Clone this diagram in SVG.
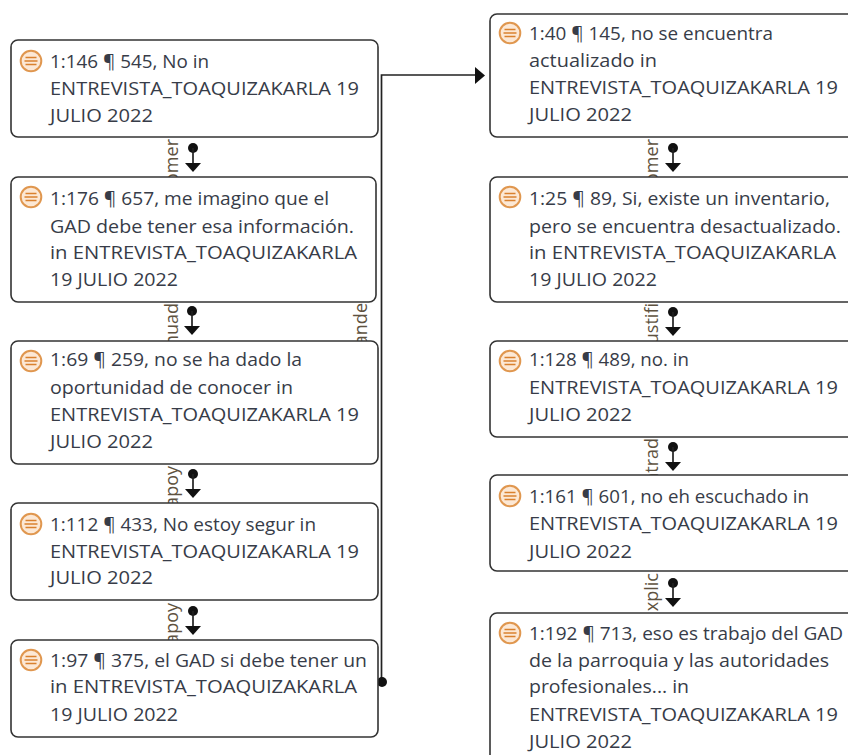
<svg xmlns="http://www.w3.org/2000/svg" width="848" height="755" viewBox="0 0 848 755">
<style>
.box{fill:#fff;stroke:#333;stroke-width:1.6}
.t{font-family:"Open Sans","Noto Sans","Liberation Sans",sans-serif;font-size:18.5px;fill:#373c48}
.l{font-family:"Open Sans","Noto Sans","Liberation Sans",sans-serif;font-size:18px;fill:#5e5240;text-anchor:end}
.c{fill:none;stroke:#222;stroke-width:1.7}
.k{fill:#111;stroke:none}
</style>
<defs>
<g id="icon"><circle cx="0" cy="0" r="10.300" fill="#fce8d5" stroke="#e0974f" stroke-width="2"/><path d="M-5.500-3.500H5.500M-6.500 0H6.500M-5.500 3.500H5.500" stroke="#d9812f" stroke-width="1.600" fill="none"/></g>
<g id="link"><circle cx="0" cy="0" r="5" class="k"/><path d="M0 0V17" class="c"/><path d="M-8 15H8L0 24Z" class="k"/></g>
</defs>
<rect width="848" height="755" fill="#fff"/>
<g id="labels">
<text class="l" transform="translate(178 139) rotate(-90)">omer</text>
<text class="l" transform="translate(178 303) rotate(-90)">nuad</text>
<text class="l" transform="translate(178 466) rotate(-90)">apoy</text>
<text class="l" transform="translate(178 603) rotate(-90)">apoy</text>
<text class="l" transform="translate(367 303) rotate(-90)">ande</text>
<text class="l" transform="translate(658 139) rotate(-90)">omer</text>
<text class="l" transform="translate(658 303) rotate(-90)">ustifi</text>
<text class="l" transform="translate(658 438) rotate(-90)">ntrad</text>
<text class="l" transform="translate(658 573) rotate(-90)">xplic</text>
</g>
<g id="connectors">
<use href="#link" x="193" y="148"/>
<use href="#link" x="192" y="311"/>
<use href="#link" x="193" y="474"/>
<use href="#link" x="193" y="611"/>
<use href="#link" x="673" y="148"/>
<use href="#link" x="673" y="312"/>
<use href="#link" x="673" y="447"/>
<use href="#link" x="673" y="583"/>
<path class="c" d="M381.500 682V75H478"/>
<path class="k" d="M475 67L485 75.500L475 84Z"/>
<circle class="k" cx="382" cy="682" r="5"/>
</g>
<g id="n1"><rect class="box" x="11" y="40" width="367" height="97" rx="7"/><use href="#icon" x="31" y="61"/><text class="t" x="50" y="68" textLength="159" lengthAdjust="spacingAndGlyphs">1:146 ¶ 545, No in</text><text class="t" x="50" y="95" textLength="309" lengthAdjust="spacingAndGlyphs">ENTREVISTA_TOAQUIZAKARLA 19</text><text class="t" x="50" y="122" textLength="103" lengthAdjust="spacingAndGlyphs">JULIO 2022</text></g>
<g id="n2"><rect class="box" x="11" y="177" width="365" height="125" rx="7"/><use href="#icon" x="31" y="197"/><text class="t" x="50" y="205" textLength="279" lengthAdjust="spacingAndGlyphs">1:176 ¶ 657, me imagino que el</text><text class="t" x="50" y="233" textLength="304" lengthAdjust="spacingAndGlyphs">GAD debe tener esa información.</text><text class="t" x="50" y="259" textLength="307" lengthAdjust="spacingAndGlyphs">in ENTREVISTA_TOAQUIZAKARLA</text><text class="t" x="50" y="286" textLength="128" lengthAdjust="spacingAndGlyphs">19 JULIO 2022</text></g>
<g id="n3"><rect class="box" x="11" y="341" width="367" height="123" rx="7"/><use href="#icon" x="31" y="361"/><text class="t" x="50" y="366" textLength="252" lengthAdjust="spacingAndGlyphs">1:69 ¶ 259, no se ha dado la</text><text class="t" x="50" y="394" textLength="243" lengthAdjust="spacingAndGlyphs">oportunidad de conocer in</text><text class="t" x="50" y="421" textLength="309" lengthAdjust="spacingAndGlyphs">ENTREVISTA_TOAQUIZAKARLA 19</text><text class="t" x="50" y="448" textLength="103" lengthAdjust="spacingAndGlyphs">JULIO 2022</text></g>
<g id="n4"><rect class="box" x="11" y="503" width="367" height="97" rx="7"/><use href="#icon" x="31" y="524"/><text class="t" x="50" y="531" textLength="266" lengthAdjust="spacingAndGlyphs">1:112 ¶ 433, No estoy segur in</text><text class="t" x="50" y="558" textLength="309" lengthAdjust="spacingAndGlyphs">ENTREVISTA_TOAQUIZAKARLA 19</text><text class="t" x="50" y="584" textLength="103" lengthAdjust="spacingAndGlyphs">JULIO 2022</text></g>
<g id="n5"><rect class="box" x="11" y="640" width="367" height="97" rx="7"/><use href="#icon" x="31" y="660"/><text class="t" x="50" y="667" textLength="317" lengthAdjust="spacingAndGlyphs">1:97 ¶ 375, el GAD si debe tener un</text><text class="t" x="50" y="693" textLength="307" lengthAdjust="spacingAndGlyphs">in ENTREVISTA_TOAQUIZAKARLA</text><text class="t" x="50" y="721" textLength="128" lengthAdjust="spacingAndGlyphs">19 JULIO 2022</text></g>
<g id="n6"><rect class="box" x="490" y="14" width="370" height="123" rx="7"/><use href="#icon" x="510" y="33"/><text class="t" x="529" y="40" textLength="244" lengthAdjust="spacingAndGlyphs">1:40 ¶ 145, no se encuentra</text><text class="t" x="529" y="67" textLength="128" lengthAdjust="spacingAndGlyphs">actualizado in</text><text class="t" x="529" y="94" textLength="309" lengthAdjust="spacingAndGlyphs">ENTREVISTA_TOAQUIZAKARLA 19</text><text class="t" x="529" y="121" textLength="103" lengthAdjust="spacingAndGlyphs">JULIO 2022</text></g>
<g id="n7"><rect class="box" x="490" y="177" width="370" height="125" rx="7"/><use href="#icon" x="510" y="197"/><text class="t" x="529" y="205" textLength="301" lengthAdjust="spacingAndGlyphs">1:25 ¶ 89, Si, existe un inventario,</text><text class="t" x="529" y="233" textLength="312" lengthAdjust="spacingAndGlyphs">pero se encuentra desactualizado.</text><text class="t" x="529" y="259" textLength="307" lengthAdjust="spacingAndGlyphs">in ENTREVISTA_TOAQUIZAKARLA</text><text class="t" x="529" y="286" textLength="128" lengthAdjust="spacingAndGlyphs">19 JULIO 2022</text></g>
<g id="n8"><rect class="box" x="490" y="341" width="370" height="96" rx="7"/><use href="#icon" x="510" y="361"/><text class="t" x="529" y="366" textLength="160" lengthAdjust="spacingAndGlyphs">1:128 ¶ 489, no. in</text><text class="t" x="529" y="394" textLength="309" lengthAdjust="spacingAndGlyphs">ENTREVISTA_TOAQUIZAKARLA 19</text><text class="t" x="529" y="421" textLength="103" lengthAdjust="spacingAndGlyphs">JULIO 2022</text></g>
<g id="n9"><rect class="box" x="490" y="475" width="370" height="96" rx="7"/><use href="#icon" x="510" y="496"/><text class="t" x="529" y="503" textLength="280" lengthAdjust="spacingAndGlyphs">1:161 ¶ 601, no eh escuchado in</text><text class="t" x="529" y="530" textLength="309" lengthAdjust="spacingAndGlyphs">ENTREVISTA_TOAQUIZAKARLA 19</text><text class="t" x="529" y="558" textLength="103" lengthAdjust="spacingAndGlyphs">JULIO 2022</text></g>
<g id="n10"><rect class="box" x="490" y="613" width="370" height="170" rx="7"/><use href="#icon" x="510" y="633"/><text class="t" x="529" y="640" textLength="314" lengthAdjust="spacingAndGlyphs">1:192 ¶ 713, eso es trabajo del GAD</text><text class="t" x="529" y="667" textLength="300" lengthAdjust="spacingAndGlyphs">de la parroquia y las autoridades</text><text class="t" x="529" y="693" textLength="160" lengthAdjust="spacingAndGlyphs">profesionales... in</text><text class="t" x="529" y="721" textLength="309" lengthAdjust="spacingAndGlyphs">ENTREVISTA_TOAQUIZAKARLA 19</text><text class="t" x="529" y="748" textLength="103" lengthAdjust="spacingAndGlyphs">JULIO 2022</text></g>
</svg>
